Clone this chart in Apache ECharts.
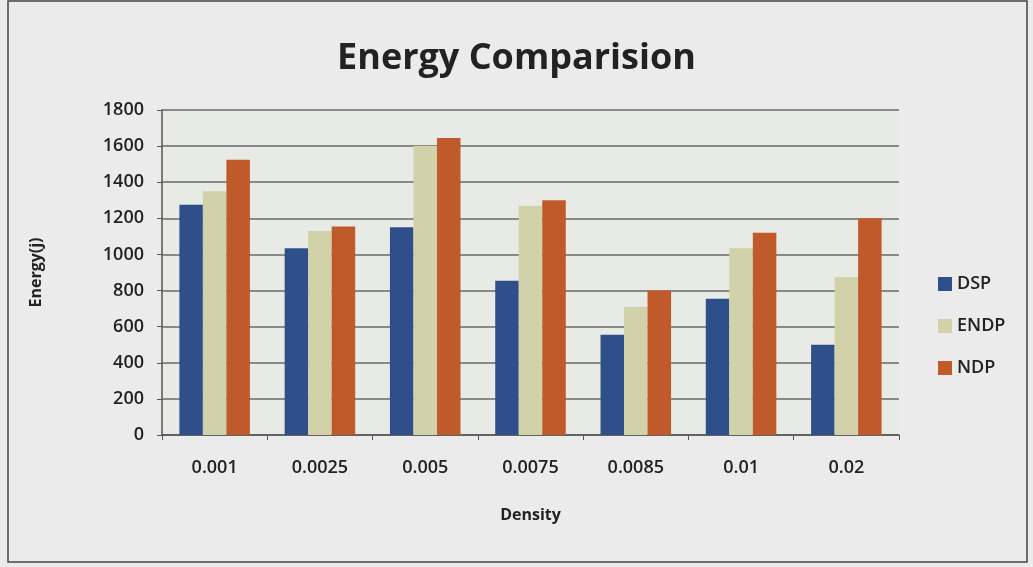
<!DOCTYPE html>
<html>
<head>
<meta charset="utf-8">
<script src="https://cdn.jsdelivr.net/npm/echarts@6/dist/echarts.min.js"></script>
<style>
  html, body { margin: 0; padding: 0; background: #ebebeb; }
  #chart { width: 1033px; height: 567px; }
</style>
</head>
<body>
<div id="chart"></div>
<script>
// Energy consumed per node density for three protocols
const densities = ['0.001', '0.0025', '0.005', '0.0075', '0.0085', '0.01', '0.02'];
const dsp  = [1275, 1035, 1150, 855, 555, 755, 500];
const endp = [1350, 1130, 1600, 1270, 710, 1035, 875];
const ndp  = [1525, 1155, 1645, 1300, 800, 1120, 1200];
const yTicks = { min: 0, max: 1800, interval: 200 };

const font = '"Open Sans", Lato, sans-serif';
const chart = echarts.init(document.getElementById('chart'), null, { renderer: 'canvas' });

function series(name, data, color) {
  return {
    name, type: 'bar', data,
    barGap: '0%', barCategoryGap: '33%',
    itemStyle: { color }
  };
}

chart.setOption({
  backgroundColor: '#ebebeb',
  animation: false,
  title: {
    text: 'Energy Comparision',
    left: 'center', top: 36,
    textStyle: { fontFamily: font, fontSize: 36, fontWeight: 'bold', color: '#222' }
  },
  legend: {
    orient: 'vertical',
    left: 933, top: 270,
    itemWidth: 14, itemHeight: 14, itemGap: 24,
    icon: 'rect',
    textStyle: { fontFamily: font, fontSize: 18, color: '#222', fontWeight: 600 },
    data: ['DSP', 'ENDP', 'NDP']
  },
  grid: {
    left: 162, right: 134, top: 110, bottom: 132,
    show: true, backgroundColor: '#e8ebe5', borderWidth: 0
  },
  xAxis: {
    type: 'category', data: densities,
    name: 'Density', nameLocation: 'middle', nameGap: 72,
    nameTextStyle: { fontFamily: font, fontSize: 16, fontWeight: 'bold', color: '#222' },
    axisLine: { lineStyle: { color: '#555', width: 1.5 } },
    axisTick: { show: true, length: 5, lineStyle: { color: '#555' } },
    axisLabel: { fontFamily: font, fontSize: 18, color: '#222', fontWeight: 600, margin: 24 }
  },
  yAxis: {
    type: 'value', min: yTicks.min, max: yTicks.max, interval: yTicks.interval,
    name: 'Energy(j)', nameLocation: 'middle', nameGap: 118, nameRotate: 90,
    nameTextStyle: { fontFamily: font, fontSize: 16, fontWeight: 'bold', color: '#222' },
    axisLine: { show: true, lineStyle: { color: '#555', width: 1.5 } },
    axisTick: { show: true, length: 5, lineStyle: { color: '#555' } },
    axisLabel: {
      fontFamily: font, fontSize: 18, color: '#222', fontWeight: 600, margin: 18,
      formatter: v => String(v)
    },
    splitLine: { lineStyle: { color: '#6a6a6a', width: 1.5 } }
  },
  series: [
    series('DSP', dsp, '#2f4f8a'),
    series('ENDP', endp, '#d2d2aa'),
    series('NDP', ndp, '#c05a2a')
  ],
  graphic: [{
    type: 'rect', silent: true, z: -1,
    shape: { x: 8, y: 1, width: 1019, height: 561 },
    style: { fill: 'none', stroke: '#444', lineWidth: 1.5 }
  }]
});
</script>
</body>
</html>
